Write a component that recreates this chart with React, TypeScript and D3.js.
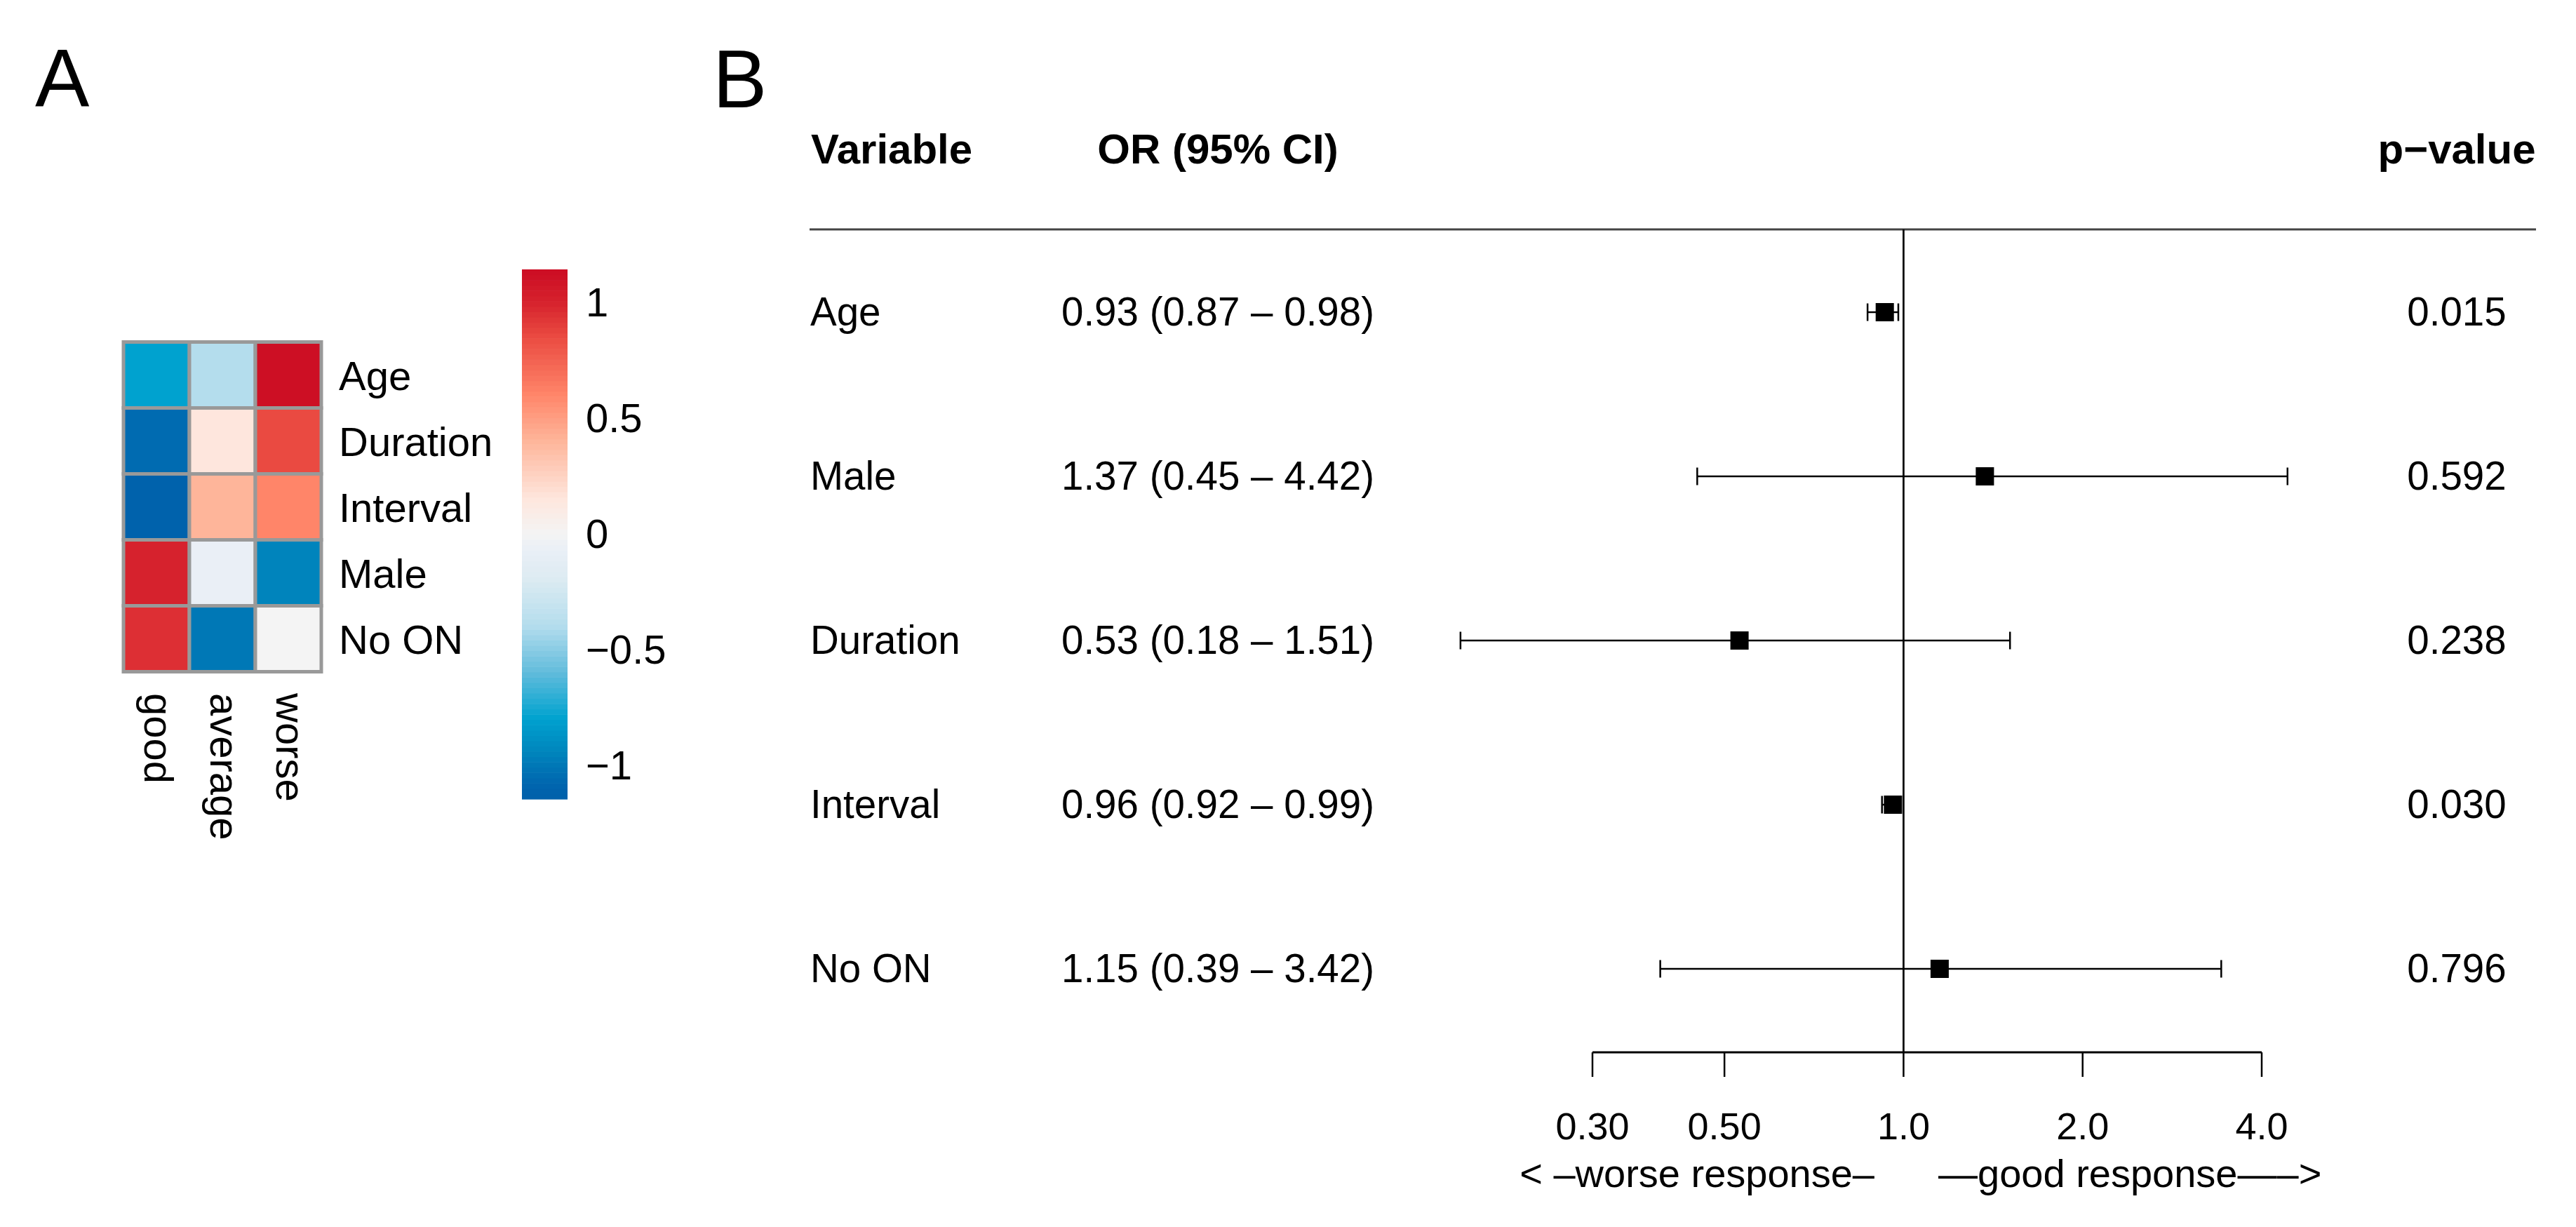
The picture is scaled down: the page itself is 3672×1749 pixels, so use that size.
import * as d3 from "d3";

// panel A: row-scaled heatmap
const heatRows = ["Age", "Duration", "Interval", "Male", "No ON"];
const heatCols = ["good", "average", "worse"];
const heatValues = [
  [-0.8, -0.4, 1.12],
  [-1.06, 0.15, 0.85],
  [-1.12, 0.4, 0.6],
  [1.0, -0.07, -0.95],
  [0.95, -1.0, 0.0],
];
const legendTicks = [1, 0.5, 0, -0.5, -1];

// panel B: forest plot
const variables = ["Age", "Male", "Duration", "Interval", "No ON"];
const oddsRatio = [0.93, 1.37, 0.53, 0.96, 1.15];
const ciLower = [0.87, 0.45, 0.18, 0.92, 0.39];
const ciUpper = [0.98, 4.42, 1.51, 0.99, 3.42];
const pValues = ["0.015", "0.592", "0.238", "0.030", "0.796"];
const axisTicks = [0.3, 0.5, 1, 2, 4];
const axisTickLabels = ["0.30", "0.50", "1.0", "2.0", "4.0"];

const paletteDomain = [-1.15, -1.1, -1.0, -0.95, -0.8, -0.6, -0.4, -0.2, -0.07, 0, 0.15, 0.4, 0.6, 0.85, 1.0, 1.14];
const paletteRange = [
  "#0060ab", "#0063ad", "#0078b6", "#0084bc", "#00a2cf", "#62bcdc", "#b4dded", "#dcebf2",
  "#eaeff6", "#f4f4f4", "#fee6dd", "#feb59a", "#ff8569", "#ea4a41", "#d6222d", "#cc0c23",
];

const FONT = "'Liberation Sans', Arial, Helvetica, sans-serif";
const minus = (s: string) => s.replace("-", "\u2212");

export default function App() {
  const width = 3672;
  const height = 1749;

  const color = d3.scaleLinear<string>().domain(paletteDomain).range(paletteRange).interpolate(d3.interpolateRgb).clamp(true);

  // heatmap geometry
  const hx = d3.scaleBand().domain(heatCols).range([176, 458]);
  const hy = d3.scaleBand().domain(heatRows).range([487.5, 957.5]);
  const legY = d3.scaleLinear().domain([-1.15, 1.14]).range([1139, 384]);
  const steps = d3.range(100).map(i => -1.15 + (i * 2.29) / 100);
  const stepH = (1139 - 384) / 100;

  // forest geometry
  const x = d3.scaleLog().domain([0.3, 4]).range([2270, 3224]);
  const y = d3.scalePoint().domain(variables).range([445, 1381]);
  const fs = 56.5;
  const box = 26;
  const cap = 25;
  const axisY = 1500;

  return (
    <svg width={width} height={height} style={{ position: "absolute", left: 0, top: 0, background: "#fff" }} fontFamily={FONT}>
      <rect width={width} height={height} fill="#fff" />
      <text x={50} y={152} fontSize={116}>A</text>
      <text x={1016} y={153} fontSize={116}>B</text>

      {/* heatmap cells */}
      <g>
        {heatRows.map((r, i) =>
          heatCols.map((c, j) => (
            <rect key={r + c} x={hx(c)} y={hy(r)} width={hx.bandwidth()} height={hy.bandwidth()}
              fill={color(heatValues[i][j])} stroke="#999999" strokeWidth={5} />
          ))
        )}
        {heatRows.map(r => (
          <text key={r} x={483} y={(hy(r) as number) + hy.bandwidth() / 2 + 21} fontSize={58}>{r}</text>
        ))}
        {heatCols.map(c => (
          <text key={c} transform={`translate(${(hx(c) as number) + hx.bandwidth() / 2 - 17},988) rotate(90)`} fontSize={58}>{c}</text>
        ))}
      </g>

      {/* colour key */}
      <g>
        {steps.map((v, i) => (
          <rect key={i} x={744} y={1139 - (i + 1) * stepH} width={65} height={stepH + 0.6} fill={color(v + 2.29 / 200)} />
        ))}
        {legendTicks.map(t => (
          <text key={t} x={835} y={legY(t) + 21} fontSize={58}>{minus(String(t))}</text>
        ))}
      </g>

      {/* forest table headers */}
      <g fontWeight="bold" fontSize={60}>
        <text x={1156} y={233}>Variable</text>
        <text x={1736} y={233} textAnchor="middle">OR (95% CI)</text>
        <text x={3502} y={233} textAnchor="middle">p{"\u2212"}value</text>
      </g>
      <line x1={1154} x2={3615} y1={327} y2={327} stroke="#444" strokeWidth={3} />

      {/* rows */}
      <g fontSize={fs}>
        {variables.map((v, i) => {
          const cy = y(v) as number;
          return (
            <g key={v}>
              <text x={1155} y={cy + 19}>{v}</text>
              <text x={1736} y={cy + 19} textAnchor="middle">
                {`${oddsRatio[i].toFixed(2)} (${ciLower[i].toFixed(2)} \u2013 ${ciUpper[i].toFixed(2)})`}
              </text>
              <text x={3502} y={cy + 19} textAnchor="middle">{pValues[i]}</text>
              <line x1={x(ciLower[i])} x2={x(ciUpper[i])} y1={cy} y2={cy} stroke="#000" strokeWidth={2.5} />
              <line x1={x(ciLower[i])} x2={x(ciLower[i])} y1={cy - cap / 2} y2={cy + cap / 2} stroke="#000" strokeWidth={2.5} />
              <line x1={x(ciUpper[i])} x2={x(ciUpper[i])} y1={cy - cap / 2} y2={cy + cap / 2} stroke="#000" strokeWidth={2.5} />
              <rect x={x(oddsRatio[i]) - box / 2} y={cy - box / 2} width={box} height={box} fill="#000" />
            </g>
          );
        })}
      </g>

      {/* reference line and axis */}
      <line x1={x(1)} x2={x(1)} y1={327} y2={axisY} stroke="#000" strokeWidth={2.7} />
      <line x1={x(0.3)} x2={x(4)} y1={axisY} y2={axisY} stroke="#000" strokeWidth={3} />
      {axisTicks.map((t, i) => (
        <g key={t}>
          <line x1={x(t)} x2={x(t)} y1={axisY} y2={axisY + 35} stroke="#000" strokeWidth={2.5} />
          <text x={x(t)} y={1624} fontSize={54} textAnchor="middle">{axisTickLabels[i]}</text>
        </g>
      ))}
      <text x={2672} y={1692} fontSize={56} textAnchor="end">{"< \u2013worse response\u2013"}</text>
      <text x={2763} y={1692} fontSize={56}>{"\u2014good response\u2014\u2013>"}</text>
    </svg>
  );
}
